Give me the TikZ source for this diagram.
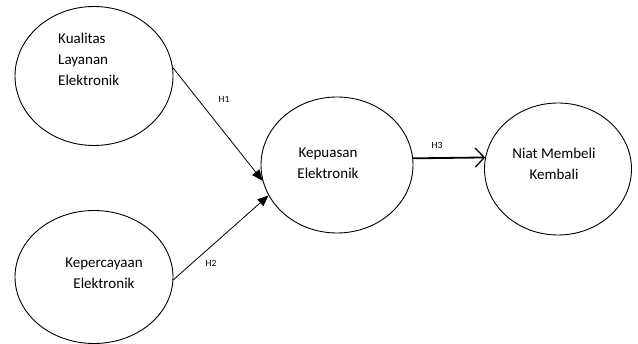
\documentclass[tikz,border=0pt]{standalone}
\usepackage{fontspec}
\setmainfont{Carlito}
\usetikzlibrary{arrows.meta,shapes.geometric}
\begin{document}
\begin{tikzpicture}[x=1pt,y=-1pt,
  constr/.style={draw, ellipse, line width=0.9pt, inner sep=0pt},
  lbl/.style={font=\fontsize{15}{21}\selectfont, align=center, inner sep=0pt},
  hlab/.style={font=\fontsize{9.5}{11}\selectfont, inner sep=0pt},
  thin/.style={line width=0.8pt, -{Triangle[length=11pt,width=9pt]}},
  thick/.style={line width=1.8pt, -{Straight Barb[length=9pt,width=19pt,line width=1.3pt]}}]
\useasboundingbox (0,0) rectangle (638,344);
\node[constr, minimum width=158pt, minimum height=139pt] (kl) at (94,76) {};
\node[constr, minimum width=158pt, minimum height=133pt] (ke) at (94,277) {};
\node[constr, minimum width=152pt, minimum height=136pt] (kp) at (337,165) {};
\node[constr, minimum width=147pt, minimum height=132pt] (nm) at (558,169) {};
\node[lbl, align=left, anchor=north west] (tkl) at (58,33) {Kualitas\\Layanan\\Elektronik};
\node[lbl] (tke) at (104,273) {Kepercayaan\\Elektronik};
\node[lbl] (tkp) at (328,163) {Kepuasan\\Elektronik};
\node[lbl] (tnm) at (554,164) {Niat Membeli\\Kembali};
\draw[thin] (kl.6) -- (kp.192);
\draw[thin] (ke.-2) -- (kp.204);
\draw[thick] (kp.5) -- (nm.171);
\node[hlab] (h1) at (224,99) {H1};
\node[hlab] (h2) at (211,263) {H2};
\node[hlab] (h3) at (437,145) {H3};
\end{tikzpicture}
\end{document}
